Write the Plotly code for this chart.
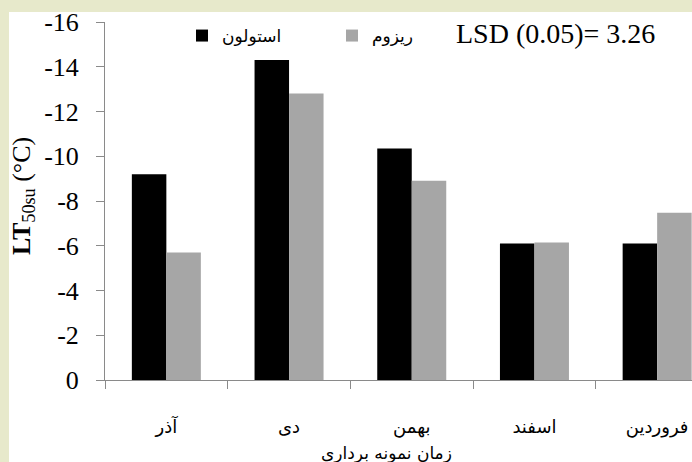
import plotly.graph_objects as go

# Sampling months (Persian calendar)
months = ["آذر", "دی", "بهمن", "اسفند", "فروردین"]
# LT50 values (°C) for the two organs
stolon = [-9.2, -14.3, -10.35, -6.1, -6.1]
rhizome = [-5.7, -12.8, -8.9, -6.15, -7.47]
series_names = ["استولون", "ریزوم"]
y_ticks = [0, -2, -4, -6, -8, -10, -12, -14, -16]
lsd_text = "LSD (0.05)= 3.26"
x_title = "زمان نمونه برداری"

W, H = 692, 462
L, R, T, B = 105, 0, 22, 82
cat_px = 122.7
plot_w = W - L - R
plot_h = H - T - B
x_range = [-0.5, -0.5 + plot_w / cat_px]
boundaries = [i - 0.5 for i in range(len(months) + 1)]

def px_x(p):
    return (p - L) / plot_w

def px_y(p):
    return (H - B - p) / plot_h

serif = "'Liberation Serif', 'Times New Roman', Times, serif"
arabic = "'DejaVu Sans', sans-serif"
axis_col = "#8a8a8a"

fig = go.Figure()
fig.add_trace(go.Bar(x=months, y=stolon, name=series_names[0],
                     marker=dict(color="#000000", line=dict(width=0))))
fig.add_trace(go.Bar(x=months, y=rhizome, name=series_names[1],
                     marker=dict(color="#a6a6a6", line=dict(width=0))))
# invisible helper so the boundary-tick axis gets drawn
fig.add_trace(go.Scatter(x=boundaries, y=[0] * len(boundaries), xaxis="x2",
                         mode="markers", marker=dict(opacity=0, size=1),
                         showlegend=False, hoverinfo="skip"))

fig.update_layout(
    width=W, height=H,
    margin=dict(l=L, r=R, t=T, b=B, pad=0),
    paper_bgcolor="#e7e9cb",
    plot_bgcolor="rgba(0,0,0,0)",
    barmode="group", bargap=0.4377, bargroupgap=0,
    showlegend=True,
    legend=dict(orientation="h", x=px_x(182), y=px_y(18), xanchor="left", yanchor="top",
                bgcolor="rgba(0,0,0,0)", font=dict(family=arabic, size=17, color="#000"),
                entrywidth=105, traceorder="normal"),
    # category axis: month labels centred under each group
    xaxis=dict(range=x_range, showline=True, linecolor=axis_col, linewidth=1,
               ticks="outside", ticklen=8, tickcolor="rgba(0,0,0,0)",
               showgrid=False, zeroline=False,
               tickfont=dict(family=arabic, size=18, color="#000"),
               ticklabelstandoff=22),
    # companion axis carrying the tick marks between groups
    xaxis2=dict(overlaying="x", anchor="y", side="bottom", type="linear",
                range=x_range, tickvals=boundaries, showticklabels=False,
                ticks="outside", ticklen=8, tickcolor=axis_col, showline=False,
                showgrid=False, zeroline=False),
    yaxis=dict(range=[0, -16], tickvals=y_ticks, ticktext=[str(v) for v in y_ticks],
               showline=True, linecolor=axis_col, linewidth=1, ticks="outside",
               ticklen=8, tickcolor=axis_col, showgrid=False, zeroline=False,
               tickfont=dict(family=serif, size=26, color="#000"),
               ticklabelstandoff=12),
    shapes=[dict(type="rect", xref="paper", yref="paper", layer="below",
                 x0=px_x(9), x1=px_x(W + 20), y0=px_y(H + 20), y1=px_y(12),
                 fillcolor="#ffffff", line=dict(width=0))],
    annotations=[
        dict(text=lsd_text, xref="paper", yref="paper", x=px_x(454), y=px_y(33),
             xanchor="left", yanchor="middle", showarrow=False,
             font=dict(family=serif, size=28, color="#000")),
        dict(text=x_title, xref="paper", yref="paper", x=px_x(386), y=px_y(453),
             xanchor="center", yanchor="middle", showarrow=False,
             font=dict(family=arabic, size=17, color="#000")),
        dict(text="<b>LT</b><sub>50su</sub> (°C)", xref="paper", yref="paper",
             x=px_x(23), y=px_y(196), xanchor="center", yanchor="middle",
             textangle=-90, showarrow=False,
             font=dict(family=serif, size=26, color="#000")),
    ],
)

fig.write_html("out.html")
